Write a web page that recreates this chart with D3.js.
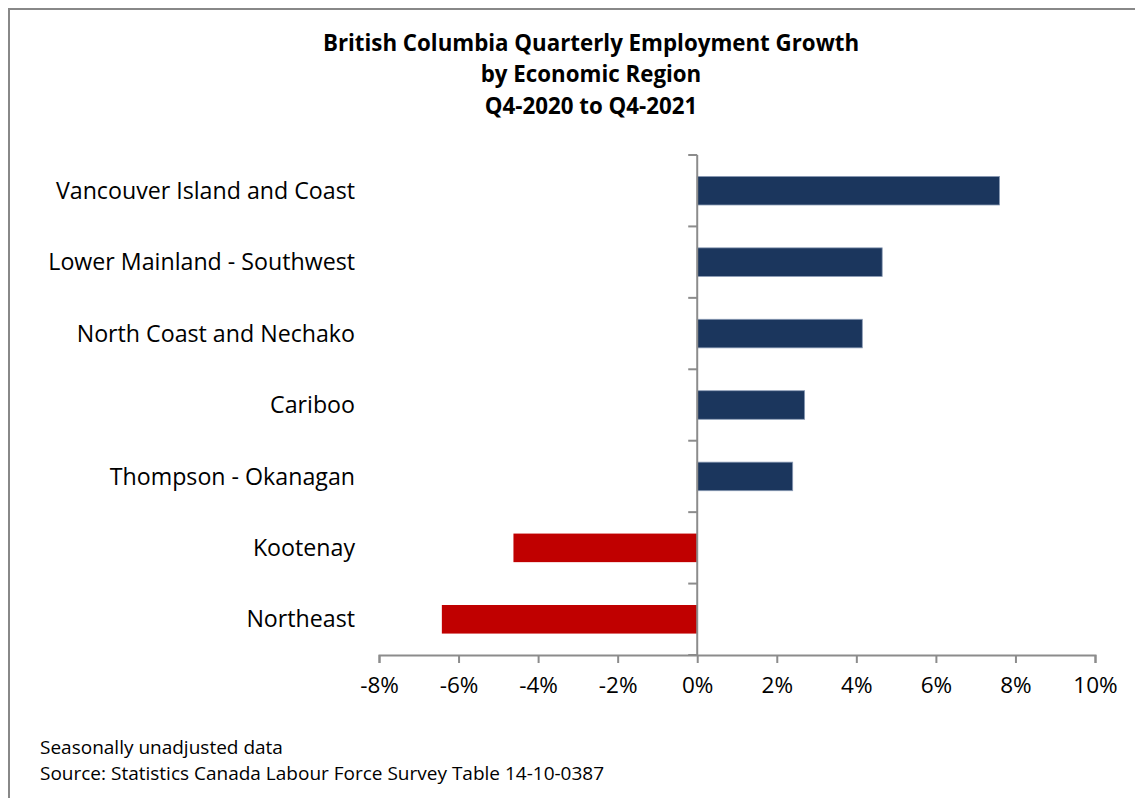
<!DOCTYPE html>
<html>
<head>
<meta charset="utf-8">
<script src="https://cdn.jsdelivr.net/npm/d3@7"></script>
<style>
  body { margin: 0; background: #fff; }
  svg text { font-family: "Open Sans", Lato, sans-serif; fill: #000; }
</style>
</head>
<body>
<svg id="chart" width="1135" height="798"></svg>
<script>
// regions, top to bottom
let regions = ["Vancouver Island and Coast", "Lower Mainland - Southwest", "North Coast and Nechako",
               "Cariboo", "Thompson - Okanagan", "Kootenay", "Northeast"];
// growth in percent
let growth = [7.6, 4.65, 4.15, 2.7, 2.4, -4.62, -6.42];
let xTicks = [-8, -6, -4, -2, 0, 2, 4, 6, 8, 10];
let titleLines = ["British Columbia Quarterly Employment Growth", "by Economic Region", "Q4-2020 to Q4-2021"];
let notes = ["Seasonally unadjusted data", "Source: Statistics Canada Labour Force Survey Table 14-10-0387"];

let svg = d3.select("#chart");
let W = 1135, H = 798;

// outer frame (only left + top visible in the picture)
svg.append("rect")
  .attr("x", 9).attr("y", 9)
  .attr("width", W + 20).attr("height", H + 20)
  .attr("fill", "none").attr("stroke", "#888").attr("stroke-width", 2);

let x = d3.scaleLinear().domain([-8, 10]).range([379, 1095]);
let y = d3.scaleBand().domain(regions).range([155, 655]).paddingInner(0.6).paddingOuter(0.3);

// title
svg.selectAll(".title")
  .data(titleLines)
  .enter().append("text")
  .attr("class", "title")
  .attr("x", 591)
  .attr("y", (d, i) => 43 + i * 31.5)
  .attr("dy", "0.35em")
  .attr("text-anchor", "middle")
  .attr("font-size", "22.3px")
  .attr("font-weight", "bold")
  .text(d => d);

// bars
svg.selectAll(".bar")
  .data(regions)
  .enter().append("rect")
  .attr("class", "bar")
  .attr("x", (d, i) => x(Math.min(0, growth[i])))
  .attr("y", d => y(d))
  .attr("width", (d, i) => Math.abs(x(growth[i]) - x(0)))
  .attr("height", y.bandwidth())
  .attr("fill", (d, i) => growth[i] < 0 ? "#c00000" : "#1b365d")
  .attr("stroke", (d, i) => growth[i] < 0 ? "none" : "#8a9bb5")
  .attr("stroke-width", 0.8);

// x axis
let xAxis = svg.append("g")
  .attr("transform", "translate(0,655)")
  .call(d3.axisBottom(x).tickValues(xTicks).tickFormat(d => d + "%").tickSizeOuter(0).tickSize(8).tickPadding(14));
xAxis.select(".domain").attr("stroke", "#8c8c8c").attr("stroke-width", 2);
xAxis.selectAll(".tick line").attr("stroke", "#8c8c8c").attr("stroke-width", 2);
xAxis.selectAll(".tick text").attr("font-size", "22.5px").attr("font-family", "'Open Sans', Lato, sans-serif").attr("fill", "#000");

// y axis at zero with category boundary ticks
let yAxisG = svg.append("g");
yAxisG.append("line")
  .attr("x1", x(0)).attr("x2", x(0))
  .attr("y1", 155).attr("y2", 655)
  .attr("stroke", "#8c8c8c").attr("stroke-width", 2);
let bounds = d3.range(regions.length + 1).map(i => 155 + i * (500 / regions.length));
yAxisG.selectAll(".ytick")
  .data(bounds)
  .enter().append("line")
  .attr("x1", x(0) - 9).attr("x2", x(0))
  .attr("y1", d => d).attr("y2", d => d)
  .attr("stroke", "#8c8c8c").attr("stroke-width", 2);

// category labels
svg.selectAll(".label")
  .data(regions)
  .enter().append("text")
  .attr("class", "label")
  .attr("x", 355)
  .attr("y", d => y(d) + y.bandwidth() / 2)
  .attr("dy", "0.35em")
  .attr("text-anchor", "end")
  .attr("font-size", "23.2px")
  .text(d => d);

// notes
svg.selectAll(".note")
  .data(notes)
  .enter().append("text")
  .attr("class", "note")
  .attr("x", 40)
  .attr("y", (d, i) => 747 + i * 26)
  .attr("dy", "0.35em")
  .attr("font-size", "19px")
  .text(d => d);
</script>
</body>
</html>
